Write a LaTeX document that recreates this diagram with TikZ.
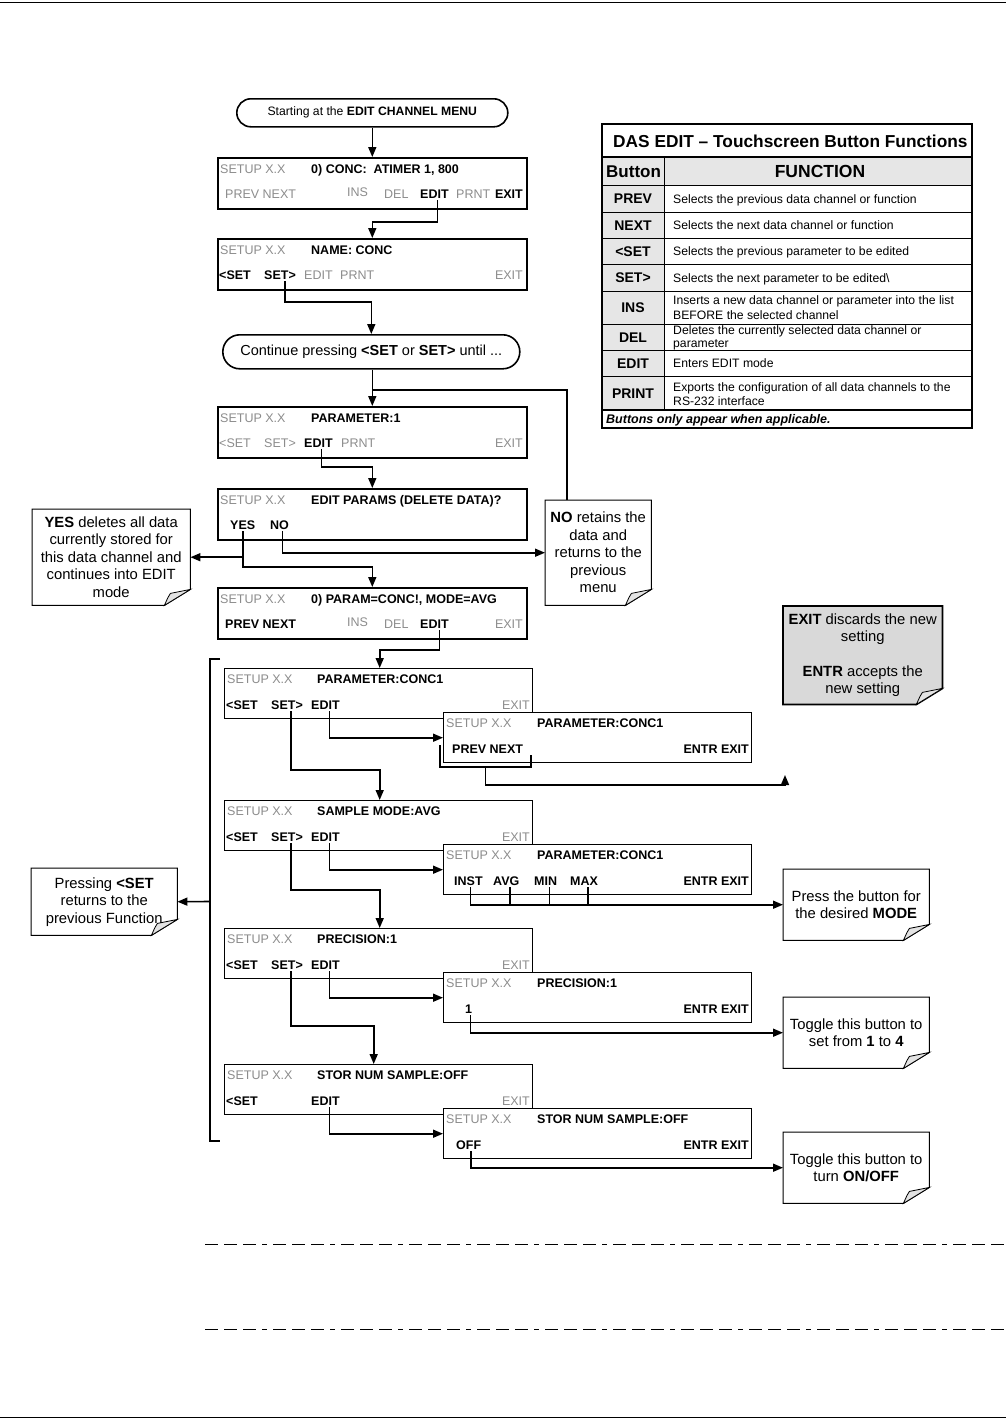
\documentclass[tikz,border=0pt]{standalone}
\usepackage{fontspec}
\setmainfont{Liberation Sans}
\usetikzlibrary{arrows.meta,backgrounds,calc}
\definecolor{lg}{RGB}{140,140,140}
\definecolor{cellgray}{RGB}{230,230,230}
\definecolor{notegray}{RGB}{217,217,217}
\newcommand\scrfont{\fontsize{12.5}{14}\selectfont}
\newcommand\notefont{\fontsize{14.8}{17.5}\selectfont}
\newcommand\descfont{\fontsize{12.2}{14}\selectfont}
\newcommand\btnfont{\fontsize{14}{16}\selectfont\bfseries}
\newcommand\notefold[3]{%
 \filldraw[fill=#2, line width=#3] (#1.north west) -- (#1.north east) -- ([yshift=16pt]#1.south east) -- ([xshift=-26pt]#1.south east) -- (#1.south west) -- cycle;
 \filldraw[fill=gray!22, line width=0.8pt] ([xshift=-26pt]#1.south east) .. controls ([xshift=-22pt,yshift=9pt]#1.south east) .. ([xshift=-20pt,yshift=12pt]#1.south east) -- ([yshift=16pt]#1.south east) -- cycle;}
\begin{document}
\begin{tikzpicture}[x=1pt,y=-1pt, line join=miter,
 scr/.style={draw, line width=1.6pt, fill=white, inner sep=0, minimum width=309pt, minimum height=51pt, anchor=north west},
 sub/.style={draw, line width=1.4pt, fill=white, inner sep=0, minimum width=308pt, minimum height=50pt, anchor=north west},
 tx/.style={inner sep=0, anchor=base west, font=\scrfont},
 g/.style={tx, text=lg},
 b/.style={tx, font=\scrfont\bfseries},
 note/.style={inner sep=0, align=center, font=\notefont, anchor=north west},
 ln/.style={line width=1.6pt},
 arr/.style={line width=1.6pt, -{Triangle[length=10pt,width=8pt]}},
 btn/.style={inner sep=0, anchor=base, font=\btnfont},
 desc/.style={inner sep=0, anchor=base west, font=\descfont},
]
\useasboundingbox (0,0) rectangle (1006,1419);
\draw[line width=0.8pt] (0,2) -- (1006,2);
\draw[line width=0.8pt] (0,1417) -- (1006,1417);

% start and continue
\node[draw, line width=1.6pt, rounded corners=14pt, minimum width=271pt, minimum height=28pt, inner sep=0, anchor=north west, font=\fontsize{12.2}{14}\selectfont] (start) at (236,98) {Starting at the \textbf{EDIT CHANNEL MENU}};
\node[draw, line width=1.6pt, rounded corners=17pt, minimum width=297pt, minimum height=34pt, inner sep=0, anchor=north west, font=\fontsize{14.5}{17}\selectfont] (cont) at (222,334) {Continue pressing \textbf{<SET} or \textbf{SET>} until ...};

% box 1
\node[scr] (b1) at (217,157) {};
\node[g] (b1s) at (220,173) {SETUP X.X};
\node[b] (b1t) at (311,173) {0) CONC:\ \ ATIMER 1, 800};
\node[g] (b1pn) at (225,198) {PREV NEXT};
\node[g] (b1ins) at (347,196) {INS};
\node[g] (b1del) at (384,198) {DEL};
\node[b] (b1edit) at (420,198) {EDIT};
\node[g] (b1prnt) at (456,198) {PRNT};
\node[b,anchor=base east] (b1exit) at (523,198) {EXIT};
% box 2
\node[scr] (b2) at (217,238) {};
\node[g] (b2s) at (220,254) {SETUP X.X};
\node[b] (b2t) at (311,254) {NAME: CONC};
\node[b] (b2setl) at (219,279) {<SET};
\node[b] (b2setr) at (264,279) {SET>};
\node[g] (b2edit) at (304,279) {EDIT};
\node[g] (b2prnt) at (340,279) {PRNT};
\node[g,anchor=base east] (b2exit) at (523,279) {EXIT};
% box 3
\node[scr] (b3) at (217,406) {};
\node[g] (b3s) at (220,422) {SETUP X.X};
\node[b] (b3t) at (311,422) {PARAMETER:1};
\node[g] (b3setl) at (219,447) {<SET};
\node[g] (b3setr) at (264,447) {SET>};
\node[b] (b3edit) at (304,447) {EDIT};
\node[g] (b3prnt) at (341,447) {PRNT};
\node[g,anchor=base east] (b3exit) at (523,447) {EXIT};
% box 4
\node[scr] (b4) at (217,488) {};
\node[g] (b4s) at (220,504) {SETUP X.X};
\node[b] (b4t) at (311,504) {EDIT PARAMS (DELETE DATA)?};
\node[b] (b4yes) at (230,529) {YES};
\node[b] (b4no) at (270,529) {NO};
% box 5
\node[scr] (b5) at (217,587) {};
\node[g] (b5s) at (220,603) {SETUP X.X};
\node[b] (b5t) at (311,603) {0) PARAM=CONC!, MODE=AVG};
\node[b] (b5pn) at (225,628) {PREV NEXT};
\node[g] (b5ins) at (347,626) {INS};
\node[g] (b5del) at (384,628) {DEL};
\node[b] (b5edit) at (420,628) {EDIT};
\node[g,anchor=base east] (b5exit) at (523,628) {EXIT};

% sub A
\node[sub] (bA) at (224,668) {};
\node[g] (bAs) at (227,683) {SETUP X.X};
\node[b] (bAt) at (317,683) {PARAMETER:CONC1};
\node[b] (bAsetl) at (226,709) {<SET};
\node[b] (bAsetr) at (271,709) {SET>};
\node[b] (bAedit) at (311,709) {EDIT};
\node[g,anchor=base east] (bAexit) at (530,709) {EXIT};
\node[sub] (bAp) at (443,712) {};
\node[g] (bAps) at (446,727) {SETUP X.X};
\node[b] (bApt) at (537,727) {PARAMETER:CONC1};
\node[b] (bAppn) at (452,753) {PREV NEXT};
\node[b,anchor=base east] (bApee) at (749,753) {ENTR EXIT};
% sub B
\node[sub] (bB) at (224,800) {};
\node[g] (bBs) at (227,815) {SETUP X.X};
\node[b] (bBt) at (317,815) {SAMPLE MODE:AVG};
\node[b] (bBsetl) at (226,841) {<SET};
\node[b] (bBsetr) at (271,841) {SET>};
\node[b] (bBedit) at (311,841) {EDIT};
\node[g,anchor=base east] (bBexit) at (530,841) {EXIT};
\node[sub] (bBp) at (443,844) {};
\node[g] (bBps) at (446,859) {SETUP X.X};
\node[b] (bBpt) at (537,859) {PARAMETER:CONC1};
\node[b] (bBpinst) at (454,885) {INST};
\node[b] (bBpavg) at (493,885) {AVG};
\node[b] (bBpmin) at (534,885) {MIN};
\node[b] (bBpmax) at (570,885) {MAX};
\node[b,anchor=base east] (bBpee) at (749,885) {ENTR EXIT};
% sub C
\node[sub] (bC) at (224,928) {};
\node[g] (bCs) at (227,943) {SETUP X.X};
\node[b] (bCt) at (317,943) {PRECISION:1};
\node[b] (bCsetl) at (226,969) {<SET};
\node[b] (bCsetr) at (271,969) {SET>};
\node[b] (bCedit) at (311,969) {EDIT};
\node[g,anchor=base east] (bCexit) at (530,969) {EXIT};
\node[sub] (bCp) at (443,972) {};
\node[g] (bCps) at (446,987) {SETUP X.X};
\node[b] (bCpt) at (537,987) {PRECISION:1};
\node[b] (bCp1) at (465,1013) {1};
\node[b,anchor=base east] (bCpee) at (749,1013) {ENTR EXIT};
% sub D
\node[sub] (bD) at (224,1064) {};
\node[g] (bDs) at (227,1079) {SETUP X.X};
\node[b] (bDt) at (317,1079) {STOR NUM SAMPLE:OFF};
\node[b] (bDsetl) at (226,1105) {<SET};
\node[b] (bDedit) at (311,1105) {EDIT};
\node[g,anchor=base east] (bDexit) at (530,1105) {EXIT};
\node[sub] (bDp) at (443,1108) {};
\node[g] (bDps) at (446,1123) {SETUP X.X};
\node[b] (bDpt) at (537,1123) {STOR NUM SAMPLE:OFF};
\node[b] (bDpoff) at (456,1149) {OFF};
\node[b,anchor=base east] (bDpee) at (749,1149) {ENTR EXIT};

% notes
\node[note, minimum width=158pt, minimum height=96pt] (yesn) at (32,509) {\textbf{YES} deletes all data\\currently stored for\\this data channel and\\continues into EDIT\\mode};
\node[note, minimum width=106pt, minimum height=105pt] (non) at (545,500) {\textbf{NO} retains the\\data and\\returns to the\\previous\\menu};
\node[note, minimum width=159pt, minimum height=98pt] (exitn) at (783,606) {\textbf{EXIT} discards the new\\setting\\[17pt]\textbf{ENTR} accepts the\\new setting};
\node[note, minimum width=146pt, minimum height=71pt] (moden) at (783,869) {Press the button for\\the desired \textbf{MODE}};
\node[note, minimum width=146pt, minimum height=67pt] (pressn) at (31,868) {Pressing \textbf{<SET}\\returns to the\\previous Function};
\node[note, minimum width=146pt, minimum height=71pt] (tog1) at (783,997) {Toggle this button to\\set from \textbf{1} to \textbf{4}};
\node[note, minimum width=146pt, minimum height=71pt] (tog2) at (783,1132) {Toggle this button to\\turn \textbf{ON/OFF}};
\begin{scope}[on background layer]
 \notefold{yesn}{white}{1pt}
 \notefold{non}{white}{1pt}
 \notefold{exitn}{notegray}{1.8pt}
 \notefold{moden}{white}{1pt}
 \notefold{pressn}{white}{1pt}
 \notefold{tog1}{white}{1pt}
 \notefold{tog2}{white}{1pt}
\end{scope}

% connectors
\draw[arr] (start.south) -- (b1.north);
\draw[arr] ([xshift=3pt,yshift=-2pt]b1edit.south) |- ($(b2.north)+(0,-16)$) -- (b2.north);
\draw[arr] ([xshift=5pt,yshift=-2pt]b2setr.south) |- ($(cont.north)+(0,-32)$) -- (cont.north);
\draw[arr] (b3.north |- cont.south) -- (b3.north);
\coordinate (j1) at ($(b3.north)+(0,-16)$);
\draw[ln] ([xshift=-31pt]non.north) |- (j1);
\draw[arr] ([xshift=3pt,yshift=-2pt]b3edit.south) |- ($(b4.north)+(0,-21)$) -- (b4.north);
\draw[arr] ([yshift=-2pt]b4yes.south) |- (yesn.east);
\draw[arr] ([yshift=-2pt]b4yes.south) |- ($(b5.north)+(0,-20)$) -- (b5.north);
\draw[arr] ([xshift=3pt,yshift=-2pt]b4no.south) |- (non.west);
\draw[arr] ([xshift=5pt,yshift=-2pt]b5edit.south) |- ($(bA.north)+(1,-18)$) -- ([xshift=1pt]bA.north);
% bracket
\draw[ln] (220,659) -- (210,659) -- (210,1141) -- (220,1141);
\coordinate (brk) at (210,901.5);
\draw[arr] (brk) -- (pressn.east);
% A
\draw[arr] ([xshift=4pt,yshift=-2pt]bAedit.south) |- (bAp.west);
\draw[arr] ([xshift=4pt,yshift=-2pt]bAsetr.south) |- ($(bB.north)+(1,-30)$) -- ([xshift=1pt]bB.north);
\draw[ln] ([xshift=-12pt,yshift=8pt]bAppn.base west) |- ([xshift=8pt,yshift=-14pt]bAppn.base east) -- ([xshift=8pt,yshift=-2pt]bAppn.base east);
\coordinate (upend) at (785,775);
\draw[arr] ([xshift=-2pt,yshift=-14pt]bAppn.base) |- ($(upend)+(0,10)$) -- (upend);
% B
\draw[arr] ([xshift=4pt,yshift=-2pt]bBedit.south) |- (bBp.west);
\draw[arr] ([xshift=4pt,yshift=-2pt]bBsetr.south) |- ($(bC.north)+(1,-38)$) -- ([xshift=1pt]bC.north);
\draw[arr] ([xshift=2pt,yshift=-2pt]bBpinst.south) |- (moden.west);
\draw[ln] ([xshift=4pt,yshift=-2pt]bBpavg.south) -- ($(bBpavg.south |- moden.west)+(4,0)$);
\draw[ln] ([xshift=4pt,yshift=-2pt]bBpmin.south) -- ($(bBpmin.south |- moden.west)+(4,0)$);
\draw[ln] ([xshift=4pt,yshift=-2pt]bBpmax.south) -- ($(bBpmax.south |- moden.west)+(4,0)$);
% C
\draw[arr] ([xshift=4pt,yshift=-2pt]bCedit.south) |- (bCp.west);
\draw[arr] ([xshift=4pt,yshift=-2pt]bCsetr.south) |- ($(bD.north)+(-5,-38)$) -- ([xshift=-5pt]bD.north);
\draw[arr] ([xshift=2pt,yshift=-2pt]bCp1.south) |- (tog1.west);
% D
\draw[arr] ([xshift=4pt,yshift=-2pt]bDedit.south) |- (bDp.west);
\draw[arr] ([xshift=2pt,yshift=-2pt]bDpoff.south) |- (tog2.west);

% table
\fill[cellgray] (602,157) rectangle (972,185);
\fill[cellgray] (602,185) rectangle (664,410);
\foreach \yy in {185,212,238,264,291,324,350,376} \draw[line width=1pt] (602,\yy) -- (972,\yy);
\draw[line width=1.4pt] (602,157) -- (972,157) (602,410) -- (972,410);
\draw[line width=1pt] (664,157) -- (664,410);
\draw[line width=1.8pt] (602,124) rectangle (972,428);
\node[inner sep=0, anchor=base west, font=\fontsize{17.3}{19}\selectfont\bfseries] (ttl) at (613,147) {DAS EDIT – Touchscreen Button Functions};
\node[inner sep=0, anchor=base west, font=\fontsize{17}{19}\selectfont\bfseries] (thb) at (606,177) {Button};
\node[inner sep=0, anchor=base, font=\fontsize{17.5}{19}\selectfont\bfseries] (thf) at (820,177) {FUNCTION};
\node[btn] (k1) at (633,203.5) {PREV};
\node[btn] (k2) at (633,230) {NEXT};
\node[btn] (k3) at (633,256) {<SET};
\node[btn] (k4) at (633,282.5) {SET>};
\node[btn] (k5) at (633,312.5) {INS};
\node[btn] (k6) at (633,342) {DEL};
\node[btn] (k7) at (633,368) {EDIT};
\node[btn] (k8) at (633,398) {PRINT};
\node[desc] (d1) at (673,203) {Selects the previous data channel or function};
\node[desc] (d2) at (673,229) {Selects the next data channel or function};
\node[desc] (d3) at (673,255) {Selects the previous parameter to be edited};
\node[desc] (d4) at (673,282) {Selects the next parameter to be edited\textbackslash};
\node[desc] (d5a) at (673,304) {Inserts a new data channel or parameter into the list};
\node[desc] (d5b) at (673,319) {BEFORE the selected channel};
\node[desc] (d6a) at (673,334) {Deletes the currently selected data channel or};
\node[desc] (d6b) at (673,347) {parameter};
\node[desc] (d7) at (673,367) {Enters EDIT mode};
\node[desc] (d8a) at (673,391) {Exports the configuration of all data channels to the};
\node[desc] (d8b) at (673,405) {RS-232 interface};
\node[inner sep=0, anchor=base west, font=\fontsize{12.5}{14}\selectfont\bfseries\itshape] (foot) at (606,423) {Buttons only appear when applicable.};

% dashed separators
\draw[line width=1pt, dash pattern=on 13pt off 6pt on 13pt off 6pt on 13pt off 6pt on 5pt off 6pt] (205,1244) -- (1006,1244);
\draw[line width=1pt, dash pattern=on 13pt off 6pt on 13pt off 6pt on 13pt off 6pt on 5pt off 6pt] (205,1329) -- (1006,1329);
\end{tikzpicture}
\end{document}
